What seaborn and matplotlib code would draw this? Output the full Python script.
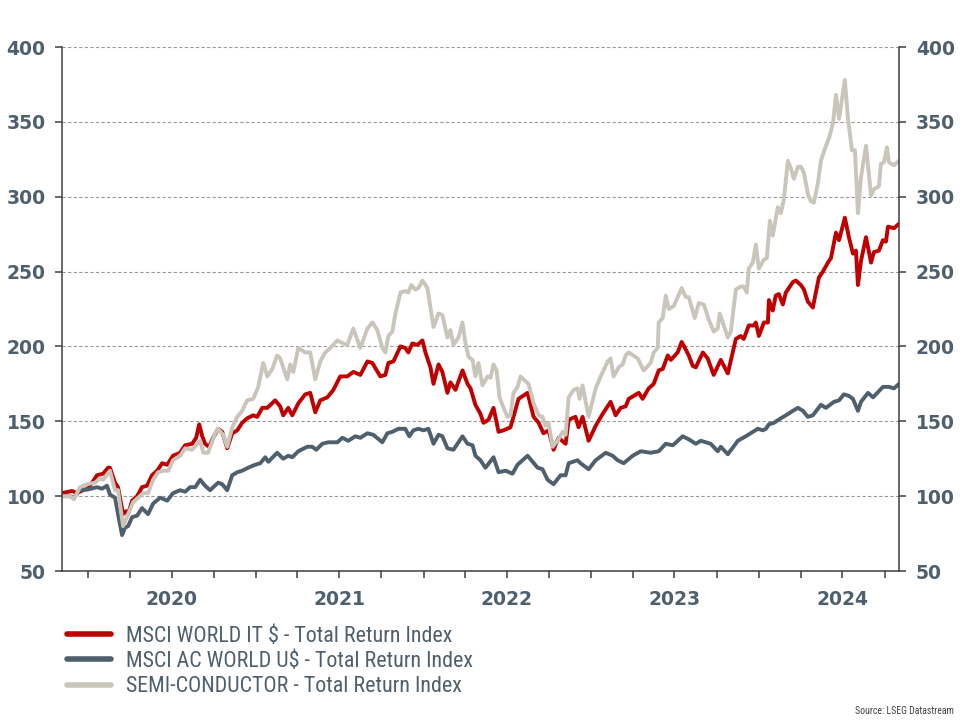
import numpy as np
import pandas as pd
import matplotlib
matplotlib.use("Agg")
import matplotlib.pyplot as plt
import matplotlib.dates as mdates
from matplotlib import font_manager
from matplotlib.lines import Line2D
from matplotlib.ticker import NullFormatter
import seaborn as sns

# index levels: (decimal year, level), rebased to 100
msci_world_it = [
    (2019.845, 102), (2019.904, 103.5), (2019.934, 102), (2019.970, 104), (2020.000, 105),
    (2020.054, 114), (2020.090, 115), (2020.119, 119), (2020.131, 119), (2020.161, 109),
    (2020.179, 106), (2020.209, 88), (2020.227, 90), (2020.239, 88), (2020.263, 97),
    (2020.293, 100), (2020.322, 106), (2020.352, 107), (2020.382, 114), (2020.412, 117),
    (2020.442, 122), (2020.472, 121), (2020.507, 127), (2020.549, 129), (2020.579, 134),
    (2020.621, 135), (2020.645, 139), (2020.663, 148), (2020.681, 140), (2020.698, 135),
    (2020.722, 133), (2020.746, 139), (2020.776, 145), (2020.800, 143), (2020.830, 132),
    (2020.860, 142), (2020.890, 144), (2020.919, 149), (2020.949, 152), (2020.985, 154),
    (2021.009, 153), (2021.039, 159), (2021.069, 159), (2021.116, 164), (2021.146, 160),
    (2021.164, 154), (2021.194, 159), (2021.218, 154), (2021.254, 162), (2021.295, 168),
    (2021.325, 169), (2021.355, 156), (2021.385, 164), (2021.427, 166), (2021.463, 171),
    (2021.504, 180), (2021.546, 180), (2021.582, 183), (2021.624, 181), (2021.666, 190),
    (2021.695, 189), (2021.743, 180), (2021.773, 181), (2021.791, 189), (2021.821, 190),
    (2021.863, 200), (2021.892, 199), (2021.910, 196), (2021.934, 202), (2021.964, 201),
    (2021.994, 204), (2022.012, 196), (2022.042, 186), (2022.060, 175), (2022.090, 188),
    (2022.113, 183), (2022.143, 169), (2022.161, 176), (2022.191, 171), (2022.233, 184),
    (2022.263, 175), (2022.281, 172), (2022.310, 161), (2022.340, 155), (2022.358, 149),
    (2022.388, 151), (2022.418, 159), (2022.448, 143), (2022.478, 144), (2022.519, 146),
    (2022.537, 153), (2022.567, 165), (2022.621, 169), (2022.657, 153), (2022.687, 149),
    (2022.716, 142), (2022.746, 144), (2022.776, 131), (2022.806, 139), (2022.848, 135),
    (2022.866, 151), (2022.907, 153), (2022.925, 146), (2022.949, 153), (2022.985, 137),
    (2023.027, 147), (2023.069, 155), (2023.116, 163), (2023.146, 154), (2023.176, 159),
    (2023.206, 160), (2023.224, 165), (2023.254, 167), (2023.284, 169), (2023.307, 165),
    (2023.343, 172), (2023.373, 175), (2023.403, 184), (2023.427, 185), (2023.457, 194),
    (2023.475, 191), (2023.516, 196), (2023.540, 203), (2023.564, 198), (2023.582, 194),
    (2023.606, 187), (2023.624, 186), (2023.666, 196), (2023.695, 192), (2023.731, 181),
    (2023.773, 191), (2023.815, 182), (2023.863, 205), (2023.892, 207), (2023.910, 205),
    (2023.940, 214), (2023.970, 214), (2023.982, 216), (2024.000, 207), (2024.030, 216),
    (2024.054, 216), (2024.060, 231), (2024.083, 224), (2024.101, 234), (2024.119, 235),
    (2024.143, 228), (2024.161, 236), (2024.203, 243), (2024.221, 244), (2024.251, 241),
    (2024.269, 238), (2024.292, 230), (2024.322, 226), (2024.358, 246), (2024.382, 250),
    (2024.412, 256), (2024.430, 259), (2024.460, 276), (2024.478, 271), (2024.513, 286),
    (2024.537, 273), (2024.561, 262), (2024.579, 264), (2024.591, 241), (2024.609, 257),
    (2024.639, 273), (2024.669, 256), (2024.686, 263), (2024.716, 264), (2024.740, 271),
    (2024.758, 270), (2024.770, 280), (2024.806, 279), (2024.836, 282),
]

msci_ac_world = [
    (2019.845, 100), (2019.893, 100), (2019.916, 99), (2019.952, 104), (2020.000, 104.5),
    (2020.054, 106), (2020.084, 105), (2020.113, 107), (2020.131, 101), (2020.161, 99),
    (2020.179, 88), (2020.203, 74), (2020.221, 79), (2020.239, 80), (2020.263, 86),
    (2020.293, 87), (2020.322, 92), (2020.358, 88), (2020.388, 95), (2020.430, 99),
    (2020.472, 97), (2020.507, 102), (2020.549, 104), (2020.579, 103), (2020.609, 106),
    (2020.639, 106), (2020.669, 111), (2020.698, 107), (2020.728, 104), (2020.776, 109),
    (2020.800, 108), (2020.830, 104), (2020.860, 114), (2020.890, 116), (2020.919, 117),
    (2020.955, 119), (2020.997, 121), (2021.027, 122), (2021.057, 126), (2021.075, 123),
    (2021.128, 129), (2021.164, 125), (2021.194, 127), (2021.218, 126), (2021.254, 130),
    (2021.307, 133), (2021.337, 133), (2021.361, 131), (2021.397, 135), (2021.433, 136),
    (2021.487, 136), (2021.516, 139), (2021.552, 137), (2021.594, 140), (2021.624, 139),
    (2021.666, 142), (2021.701, 141), (2021.755, 136), (2021.785, 142), (2021.815, 143),
    (2021.851, 145), (2021.892, 145), (2021.916, 140), (2021.940, 144), (2021.970, 145),
    (2022.000, 144), (2022.030, 145), (2022.060, 135), (2022.090, 141), (2022.113, 140),
    (2022.143, 132), (2022.179, 131), (2022.233, 140), (2022.263, 135), (2022.293, 134),
    (2022.310, 127), (2022.340, 124), (2022.370, 119), (2022.418, 126), (2022.448, 116),
    (2022.490, 117), (2022.531, 115), (2022.561, 121), (2022.621, 127), (2022.681, 119),
    (2022.710, 118), (2022.740, 111), (2022.776, 108), (2022.818, 114), (2022.848, 114),
    (2022.866, 122), (2022.919, 124), (2022.937, 122), (2022.985, 118), (2023.027, 124),
    (2023.087, 129), (2023.128, 127), (2023.158, 124), (2023.194, 122), (2023.248, 127),
    (2023.296, 130), (2023.355, 129), (2023.403, 130), (2023.445, 135), (2023.487, 134),
    (2023.546, 140), (2023.582, 138), (2023.624, 135), (2023.654, 137), (2023.713, 135),
    (2023.755, 130), (2023.773, 133), (2023.815, 128), (2023.875, 137), (2023.922, 140),
    (2023.994, 145), (2024.024, 144), (2024.042, 145), (2024.060, 148), (2024.090, 149),
    (2024.131, 152), (2024.161, 154), (2024.203, 157), (2024.233, 159), (2024.263, 157),
    (2024.292, 153), (2024.322, 154), (2024.370, 161), (2024.400, 159), (2024.448, 163),
    (2024.478, 164), (2024.507, 168), (2024.537, 167), (2024.561, 165), (2024.591, 157),
    (2024.609, 163), (2024.651, 169), (2024.681, 166), (2024.698, 168), (2024.740, 173),
    (2024.776, 173), (2024.806, 172), (2024.836, 175),
]

semiconductor = [
    (2019.845, 100), (2019.893, 100), (2019.916, 98), (2019.952, 106), (2019.994, 108),
    (2020.042, 109), (2020.072, 112), (2020.090, 111), (2020.131, 117), (2020.161, 104),
    (2020.179, 104), (2020.209, 80), (2020.239, 88), (2020.269, 96), (2020.299, 99),
    (2020.328, 102), (2020.358, 102), (2020.388, 111), (2020.418, 116), (2020.448, 117),
    (2020.478, 117), (2020.507, 124), (2020.549, 127), (2020.579, 132), (2020.621, 131),
    (2020.651, 135), (2020.669, 137), (2020.687, 129), (2020.716, 129), (2020.758, 142),
    (2020.776, 145), (2020.806, 141), (2020.830, 133), (2020.860, 146), (2020.890, 153),
    (2020.919, 157), (2020.949, 164), (2020.985, 165), (2021.015, 173), (2021.045, 189),
    (2021.069, 180), (2021.099, 185), (2021.128, 194), (2021.146, 192), (2021.188, 178),
    (2021.206, 188), (2021.224, 183), (2021.254, 199), (2021.296, 196), (2021.325, 196),
    (2021.355, 178), (2021.385, 190), (2021.415, 196), (2021.445, 199), (2021.487, 204),
    (2021.522, 202), (2021.546, 201), (2021.582, 212), (2021.624, 199), (2021.666, 212),
    (2021.696, 216), (2021.725, 211), (2021.755, 199), (2021.773, 196), (2021.791, 207),
    (2021.815, 210), (2021.833, 222), (2021.863, 236), (2021.892, 237), (2021.910, 236),
    (2021.928, 241), (2021.952, 238), (2021.970, 239), (2021.994, 244), (2022.024, 239),
    (2022.060, 213), (2022.090, 222), (2022.113, 221), (2022.143, 206), (2022.161, 211),
    (2022.179, 201), (2022.209, 206), (2022.233, 216), (2022.251, 202), (2022.269, 193),
    (2022.293, 191), (2022.310, 180), (2022.328, 189), (2022.352, 174), (2022.382, 180),
    (2022.400, 179), (2022.418, 188), (2022.436, 184), (2022.454, 166), (2022.478, 159),
    (2022.501, 153), (2022.519, 154), (2022.537, 169), (2022.561, 173), (2022.579, 180),
    (2022.597, 178), (2022.627, 175), (2022.657, 162), (2022.687, 154), (2022.710, 153),
    (2022.728, 147), (2022.746, 149), (2022.770, 133), (2022.800, 137), (2022.830, 143),
    (2022.848, 141), (2022.866, 166), (2022.896, 171), (2022.919, 172), (2022.931, 165),
    (2022.949, 174), (2022.985, 153), (2023.027, 172), (2023.057, 180), (2023.099, 190),
    (2023.116, 192), (2023.134, 180), (2023.164, 186), (2023.188, 188), (2023.206, 194),
    (2023.224, 196), (2023.278, 192), (2023.313, 184), (2023.355, 189), (2023.373, 196),
    (2023.397, 199), (2023.403, 216), (2023.427, 219), (2023.445, 234), (2023.463, 225),
    (2023.493, 227), (2023.540, 239), (2023.564, 233), (2023.582, 233), (2023.618, 219),
    (2023.642, 229), (2023.672, 228), (2023.701, 218), (2023.731, 210), (2023.755, 212),
    (2023.767, 222), (2023.785, 216), (2023.815, 206), (2023.833, 210), (2023.863, 238),
    (2023.892, 240), (2023.910, 240), (2023.928, 236), (2023.940, 252), (2023.964, 256),
    (2023.982, 268), (2024.000, 252), (2024.030, 258), (2024.048, 259), (2024.066, 284),
    (2024.083, 274), (2024.113, 293), (2024.131, 289), (2024.149, 298), (2024.173, 324),
    (2024.191, 319), (2024.209, 312), (2024.233, 320), (2024.251, 320), (2024.269, 316),
    (2024.292, 302), (2024.310, 297), (2024.328, 296), (2024.352, 309), (2024.370, 324),
    (2024.400, 334), (2024.418, 339), (2024.442, 349), (2024.460, 368), (2024.478, 352),
    (2024.513, 378), (2024.531, 353), (2024.555, 331), (2024.573, 331), (2024.591, 289),
    (2024.609, 313), (2024.639, 334), (2024.669, 301), (2024.686, 305), (2024.716, 307),
    (2024.728, 322), (2024.746, 323), (2024.764, 333), (2024.776, 323), (2024.806, 321),
    (2024.836, 324),
]

names = [
    "MSCI WORLD IT $ - Total Return Index",
    "MSCI AC WORLD U$ - Total Return Index",
    "SEMI-CONDUCTOR - Total Return Index",
]
colors = ["#C00000", "#4E5F6D", "#C9C5BA"]
years = [2020, 2021, 2022, 2023, 2024]
y_ticks = [50, 100, 150, 200, 250, 300, 350, 400]

text_col = "#4E5F6D"
axis_col = "#3F3F3F"

# pick a narrow face for the legend if there is one
installed = {f.name for f in font_manager.fontManager.ttflist}
narrow = "Roboto"
legend_size = 13.5
for cand, size in [("Liberation Sans Narrow", 15.5), ("Roboto Condensed", 15.8),
                   ("DejaVu Sans Condensed", 13.5), ("Open Sans Condensed", 15.5)]:
    if cand in installed:
        narrow, legend_size = cand, size
        break


def to_frame(points, name):
    t = np.array([p[0] for p in points])
    dates = pd.Timestamp("2020-01-01") + pd.to_timedelta((t - 2020) * 365.25, unit="D")
    return pd.DataFrame({"date": dates, "value": [p[1] for p in points], "series": name})


df = pd.concat([to_frame(s, n) for s, n in zip([msci_world_it, msci_ac_world, semiconductor], names)])

sns.set_theme(style="white")
plt.rcParams["font.family"] = ["DejaVu Sans"]

fig = plt.figure(figsize=(9.6, 7.2), dpi=100)
ax = fig.add_axes([0.0646, 0.2069, 0.8719, 0.7278])

sns.lineplot(data=df, x="date", y="value", hue="series", hue_order=names,
             palette=dict(zip(names, colors)), linewidth=2.8, estimator=None,
             sort=False, legend=False, ax=ax)

ax.set_xlabel("")
ax.set_ylabel("")
ax.set_xlim(df["date"].min(), df["date"].max())
ax.set_ylim(50, 400)

# y axis, labels both sides
ax.set_yticks(y_ticks)
ax.set_yticklabels([str(v) for v in y_ticks], fontweight="bold")
ax.yaxis.grid(True, linestyle=(0, (3, 2)), color="#9A9A9A", linewidth=0.8)
ax.xaxis.grid(False)
ax.tick_params(axis="y", left=True, right=True, labelleft=True, labelright=True,
               length=5, width=1.1, color=axis_col, pad=7, labelsize=13.5, labelcolor=text_col)

# x axis: quarterly ticks, year names at mid-year
ax.xaxis.set_major_locator(mdates.MonthLocator(bymonth=[1, 4, 7, 10]))
ax.xaxis.set_major_formatter(NullFormatter())
ax.tick_params(axis="x", bottom=True, length=5, width=1.1, color=axis_col, direction="out")
for yr in years:
    ax.text(mdates.date2num(pd.Timestamp(f"{yr}-07-01")), -0.055, str(yr),
            transform=ax.get_xaxis_transform(), ha="center", va="center",
            fontsize=13.5, fontweight="bold", color=text_col)

ax.spines["top"].set_visible(False)
for side in ["left", "right", "bottom"]:
    ax.spines[side].set_color(axis_col)
    ax.spines[side].set_linewidth(1.1)

handles = [Line2D([0], [0], color=c, linewidth=4) for c in colors]
fig.legend(handles, names, loc="upper left", bbox_to_anchor=(0.0698, 0.131),
           frameon=False, prop={"family": narrow, "size": legend_size}, labelcolor=text_col,
           handlelength=2.0, handletextpad=0.7, labelspacing=0.2,
           borderpad=0, borderaxespad=0)

fig.text(0.994, 0.006, "Source: LSEG Datastream", ha="right", va="bottom",
         fontsize=7, color="#404040", family=narrow)

fig.savefig("out.png", dpi=100)
